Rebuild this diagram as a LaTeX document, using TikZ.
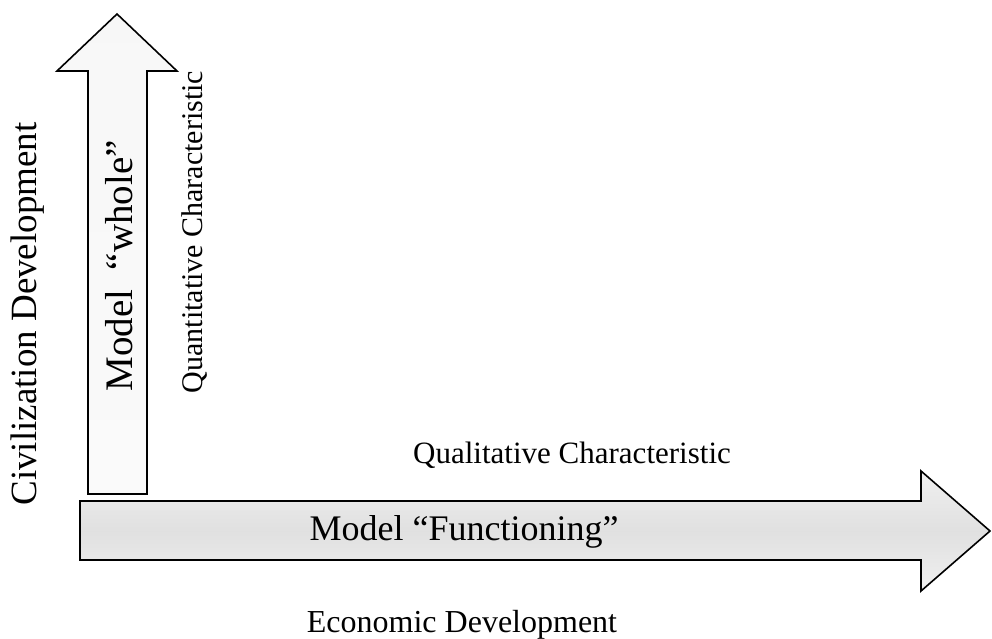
\documentclass[tikz,border=0pt]{standalone}
\usepackage{fontspec}
\setmainfont{Liberation Serif}
\begin{document}
\begin{tikzpicture}[x=1pt,y=-1pt,
  outline/.style={draw=black,line width=1.6pt,line join=miter},
  lbl/.style={inner sep=0pt}]
\useasboundingbox (0,0) rectangle (992,639);
% vertical arrow
\path[outline,top color=white!97!black,middle color=white!90!black,bottom color=white!98!black]
  (88,494) -- (88,71) -- (57,71) -- (117,14) -- (177,71) -- (147,71) -- (147,494) -- cycle;
% horizontal arrow
\path[outline,top color=white!94!black,bottom color=white!94!black,middle color=white!88!black]
  (80,501) -- (921,501) -- (921,471) -- (990,531) -- (921,591) -- (921,560) -- (80,560) -- cycle;
\node[lbl,rotate=90,font=\fontsize{37}{44}\selectfont] (civ) at (28,314) {Civilization Development};
\node[lbl,rotate=90,font=\fontsize{39}{46}\selectfont] (whole) at (119,266) {Model\ \ ``whole''};
\node[lbl,rotate=90,font=\fontsize{30}{36}\selectfont] (quant) at (195,232) {Quantitative Characteristic};
\node[lbl,font=\fontsize{31}{36}\selectfont] (qual) at (572,455) {Qualitative Characteristic};
\node[lbl,font=\fontsize{36}{42}\selectfont] (func) at (464,532) {Model ``Functioning''};
\node[lbl,font=\fontsize{32}{38}\selectfont] (econ) at (462,625) {Economic Development};
\end{tikzpicture}
\end{document}
